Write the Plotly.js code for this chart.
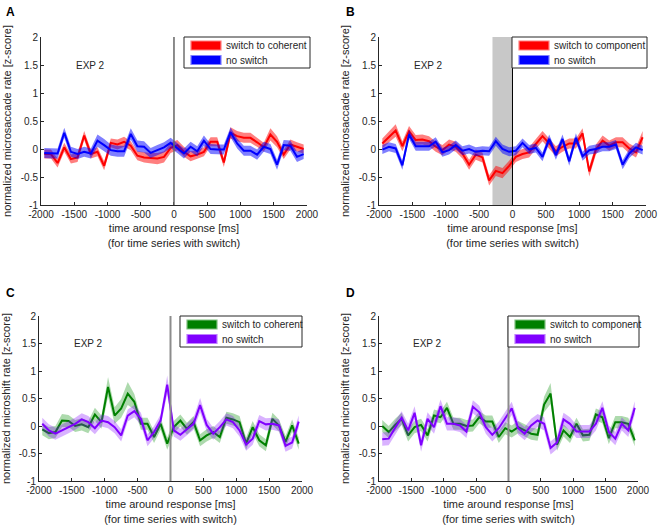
<!DOCTYPE html>
<html>
<head>
<meta charset="utf-8">
<script src="https://cdn.plot.ly/plotly-3.0.1.min.js"></script>
<style>
  html, body { margin: 0; padding: 0; background: #fff; }
  #plot { width: 662px; height: 528px; }
</style>
</head>
<body>
<div id="plot"></div>
<script>
// time bins around the response (ms)
var timeMs = [-1950, -1850, -1750, -1650, -1550, -1450, -1350, -1250, -1150, -1050,
  -950, -850, -750, -650, -550, -450, -350, -250, -150, -50,
  50, 150, 250, 350, 450, 550, 650, 750, 850, 950,
  1050, 1150, 1250, 1350, 1450, 1550, 1650, 1750, 1850, 1950];

// A: microsaccades, switch to coherent vs no switch
var msCohSwitch = [-0.09, -0.09, -0.25, 0.03, -0.18, -0.15, 0.24, -0.09, -0.05, -0.30,
  0.11, 0.08, 0.13, 0.06, -0.12, -0.15, -0.16, -0.17, -0.14, 0.02,
  0.07, -0.05, -0.13, -0.10, -0.05, 0.13, 0.13, -0.24, 0.29, 0.23,
  0.20, 0.20, 0.12, 0.03, 0.26, 0.13, -0.10, 0.08, 0.04, 0.00];
var msCohSwitchErr = [0.08, 0.08, 0.08, 0.08, 0.08, 0.08, 0.08, 0.08, 0.08, 0.08,
  0.08, 0.09, 0.09, 0.08, 0.08, 0.09, 0.09, 0.10, 0.10, 0.09,
  0.09, 0.09, 0.09, 0.08, 0.08, 0.08, 0.08, 0.08, 0.10, 0.09,
  0.09, 0.09, 0.08, 0.08, 0.11, 0.10, 0.08, 0.09, 0.08, 0.08];
var msCohNoSwitch = [-0.07, -0.08, -0.08, 0.29, -0.05, -0.09, -0.05, -0.08, 0.15, 0.07,
  -0.02, -0.04, -0.04, 0.27, 0.05, 0.04, -0.07, -0.02, 0.03, 0.11,
  0.02, -0.08, 0.04, -0.04, 0.15, 0.00, -0.01, -0.01, 0.30, 0.10,
  -0.03, -0.03, -0.10, 0.04, 0.00, -0.28, 0.07, 0.06, -0.14, -0.09];
var msCohNoSwitchErr = [0.09, 0.09, 0.09, 0.09, 0.09, 0.09, 0.09, 0.09, 0.11, 0.11,
  0.10, 0.10, 0.10, 0.10, 0.10, 0.10, 0.09, 0.09, 0.09, 0.09,
  0.09, 0.09, 0.09, 0.09, 0.09, 0.09, 0.09, 0.09, 0.09, 0.09,
  0.09, 0.09, 0.09, 0.09, 0.09, 0.09, 0.09, 0.09, 0.09, 0.09];

// B: microsaccades, switch to component vs no switch
var msCompSwitch = [0.10, 0.22, 0.33, 0.05, 0.32, 0.16, 0.17, 0.14, 0.04, -0.02,
  0.08, 0.04, -0.08, -0.28, -0.10, -0.15, -0.56, -0.39, -0.43, -0.30,
  -0.14, -0.09, -0.06, 0.09, 0.23, 0.10, -0.04, 0.04, 0.10, 0.10,
  0.28, -0.40, -0.01, 0.15, 0.06, 0.12, 0.12, 0.01, -0.06, 0.21];
var msCompSwitchErr = [0.09, 0.10, 0.11, 0.09, 0.09, 0.09, 0.09, 0.09, 0.09, 0.09,
  0.09, 0.09, 0.09, 0.09, 0.09, 0.09, 0.09, 0.09, 0.09, 0.09,
  0.09, 0.09, 0.09, 0.09, 0.09, 0.09, 0.09, 0.09, 0.09, 0.09,
  0.09, 0.09, 0.09, 0.09, 0.09, 0.09, 0.09, 0.09, 0.09, 0.11];
var msCompNoSwitch = [-0.01, 0.04, 0.01, -0.29, 0.26, 0.05, 0.05, 0.05, 0.13, -0.06,
  -0.02, 0.07, -0.03, 0.00, -0.05, -0.03, -0.04, 0.14, 0.00, -0.05,
  -0.03, 0.11, -0.01, 0.02, -0.14, 0.18, -0.11, 0.18, -0.22, 0.20,
  -0.13, -0.02, 0.00, 0.04, 0.04, 0.08, -0.28, -0.08, 0.03, -0.02];
var msCompNoSwitchErr = [0.08, 0.08, 0.08, 0.08, 0.08, 0.08, 0.08, 0.08, 0.08, 0.08,
  0.08, 0.08, 0.08, 0.08, 0.08, 0.08, 0.08, 0.08, 0.08, 0.08,
  0.08, 0.08, 0.08, 0.08, 0.08, 0.08, 0.08, 0.08, 0.08, 0.08,
  0.08, 0.08, 0.08, 0.08, 0.08, 0.08, 0.08, 0.08, 0.08, 0.08];

// C: microshifts, switch to coherent vs no switch
var mfCohSwitch = [-0.06, -0.13, -0.11, 0.10, 0.09, 0.00, 0.03, -0.02, 0.21, 0.07,
  0.71, 0.19, 0.32, 0.59, 0.44, 0.04, 0.04, -0.20, 0.04, -0.32,
  -0.02, 0.10, -0.05, 0.07, -0.26, -0.17, -0.11, -0.20, 0.15, 0.12,
  0.07, -0.32, -0.02, -0.26, -0.35, 0.13, 0.01, -0.29, 0.01, -0.32];
var mfCohSwitchErr = [0.11, 0.11, 0.11, 0.12, 0.11, 0.11, 0.11, 0.11, 0.12, 0.12,
  0.18, 0.15, 0.17, 0.21, 0.14, 0.11, 0.11, 0.11, 0.11, 0.11,
  0.11, 0.11, 0.11, 0.11, 0.11, 0.11, 0.11, 0.11, 0.11, 0.11,
  0.11, 0.11, 0.11, 0.11, 0.11, 0.11, 0.11, 0.11, 0.11, 0.11];
var mfCohNoSwitch = [0.04, -0.08, -0.14, -0.08, -0.02, 0.04, 0.12, 0.07, -0.04, 0.10,
  0.07, -0.02, -0.17, 0.19, 0.27, 0.13, -0.26, -0.11, 0.10, 0.75,
  -0.08, -0.16, -0.06, 0.04, 0.38, 0.02, -0.14, -0.02, 0.12, 0.07,
  -0.08, -0.34, -0.23, 0.09, 0.03, 0.04, 0.01, -0.36, -0.30, 0.08];
var mfCohNoSwitchErr = [0.11, 0.11, 0.11, 0.11, 0.11, 0.11, 0.11, 0.11, 0.11, 0.11,
  0.11, 0.11, 0.11, 0.11, 0.11, 0.11, 0.11, 0.11, 0.11, 0.17,
  0.11, 0.11, 0.11, 0.11, 0.13, 0.11, 0.11, 0.11, 0.11, 0.11,
  0.11, 0.11, 0.11, 0.11, 0.11, 0.11, 0.11, 0.11, 0.11, 0.11];

// D: microshifts, switch to component vs no switch
var mfCompSwitch = [0.00, -0.11, 0.02, 0.13, -0.17, -0.02, 0.02, -0.17, 0.19, 0.16,
  0.33, 0.04, 0.04, 0.00, 0.01, 0.16, 0.08, 0.08, -0.20, -0.04,
  -0.10, -0.02, -0.08, -0.14, -0.16, 0.39, 0.59, -0.34, -0.08, -0.20,
  0.04, -0.17, -0.16, 0.21, 0.16, -0.22, 0.07, 0.07, 0.04, -0.26];
var mfCompSwitchErr = [0.11, 0.11, 0.11, 0.11, 0.11, 0.11, 0.11, 0.11, 0.11, 0.11,
  0.11, 0.11, 0.11, 0.11, 0.11, 0.11, 0.11, 0.11, 0.11, 0.11,
  0.11, 0.11, 0.11, 0.11, 0.11, 0.14, 0.19, 0.11, 0.11, 0.11,
  0.11, 0.11, 0.11, 0.11, 0.11, 0.11, 0.11, 0.11, 0.11, 0.11];
var mfCompNoSwitch = [-0.24, -0.23, -0.03, 0.15, -0.08, 0.24, -0.35, 0.13, -0.02, 0.36,
  0.04, 0.04, 0.01, -0.10, 0.35, 0.25, -0.02, -0.16, -0.04, 0.13,
  0.32, -0.04, -0.14, 0.01, 0.10, 0.04, -0.40, -0.30, 0.12, 0.04,
  -0.10, -0.10, -0.10, 0.04, 0.33, -0.11, -0.23, 0.04, -0.08, 0.33];
var mfCompNoSwitchErr = [0.12, 0.12, 0.12, 0.12, 0.12, 0.12, 0.12, 0.12, 0.12, 0.12,
  0.12, 0.12, 0.12, 0.12, 0.12, 0.12, 0.12, 0.12, 0.12, 0.12,
  0.12, 0.12, 0.12, 0.12, 0.12, 0.12, 0.12, 0.12, 0.12, 0.12,
  0.12, 0.12, 0.12, 0.12, 0.12, 0.12, 0.12, 0.12, 0.12, 0.12];

var shadeWindow = [-300, 0];
var legendCoh = ['switch to coherent', 'no switch'];
var legendComp = ['switch to component', 'no switch'];

var xTickVals = [-2000, -1500, -1000, -500, 0, 500, 1000, 1500, 2000];
var xTickText = ['-2000', '-1500', '-1000', '-500', '0', '500', '1000', '1500', '2000'];
var yTickVals = [-1, -0.5, 0, 0.5, 1, 1.5, 2];
var yTickText = ['-1', '-0.5', '0', '0.5', '1', '1.5', '2'];

var FONT = 'Liberation Sans, Arial, sans-serif';
var INK = '#262626';
var W = 662, H = 528;
function px(x) { return x / W; }
function py(y) { return 1 - y / H; }

function band(y, err, color, n) {
  var up = y.map(function (v, i) { return v + err[i]; });
  var lo = y.map(function (v, i) { return v - err[i]; }).reverse();
  return {
    x: timeMs.concat(timeMs.slice().reverse()), y: up.concat(lo),
    type: 'scatter', mode: 'lines', fill: 'toself', fillcolor: color,
    line: {width: 0, color: color}, hoverinfo: 'skip', showlegend: false,
    xaxis: 'x' + n, yaxis: 'y' + n
  };
}
function meanLine(y, color, n) {
  return {
    x: timeMs, y: y, type: 'scatter', mode: 'lines',
    line: {color: color, width: 2}, showlegend: false,
    xaxis: 'x' + n, yaxis: 'y' + n
  };
}

var RED = '#ff0000', BLUE = '#0000ff', GREEN = '#008000', PURPLE = '#8000ff';
var RED_F = 'rgba(255,0,0,0.5)', BLUE_F = 'rgba(0,0,255,0.5)';
var GREEN_F = 'rgba(0,140,0,0.32)', PURPLE_F = 'rgba(128,0,255,0.3)';

var data = [
  band(msCohSwitch, msCohSwitchErr, RED_F, 1), meanLine(msCohSwitch, RED, 1),
  band(msCohNoSwitch, msCohNoSwitchErr, BLUE_F, 1), meanLine(msCohNoSwitch, BLUE, 1),

  band(msCompSwitch, msCompSwitchErr, RED_F, 2), meanLine(msCompSwitch, RED, 2),
  band(msCompNoSwitch, msCompNoSwitchErr, BLUE_F, 2), meanLine(msCompNoSwitch, BLUE, 2),

  band(mfCohSwitch, mfCohSwitchErr, GREEN_F, 3), meanLine(mfCohSwitch, GREEN, 3),
  band(mfCohNoSwitch, mfCohNoSwitchErr, PURPLE_F, 3), meanLine(mfCohNoSwitch, PURPLE, 3),

  band(mfCompSwitch, mfCompSwitchErr, GREEN_F, 4), meanLine(mfCompSwitch, GREEN, 4),
  band(mfCompNoSwitch, mfCompNoSwitchErr, PURPLE_F, 4), meanLine(mfCompNoSwitch, PURPLE, 4)
];

function xAxis(dom, anchor) {
  return {
    domain: dom, anchor: anchor, range: [-2000, 2000], fixedrange: true,
    tickvals: xTickVals, ticktext: xTickText, ticks: 'inside', ticklen: 3,
    tickcolor: INK, showline: true, linecolor: INK, linewidth: 1,
    showgrid: false, zeroline: false, tickfont: {size: 10, color: INK},
    title: {text: 'time around response [ms]<br>(for time series with switch)',
      font: {size: 11, color: INK}, standoff: 5}
  };
}
function yAxis(dom, anchor, label) {
  return {
    domain: dom, anchor: anchor, range: [-1, 2], fixedrange: true,
    tickvals: yTickVals, ticktext: yTickText, ticks: 'inside', ticklen: 3,
    tickcolor: INK, showline: true, linecolor: INK, linewidth: 1,
    showgrid: false, zeroline: false, tickfont: {size: 10, color: INK},
    title: {text: label, font: {size: 11, color: INK}, standoff: 6}
  };
}

var shapes = [
  {type: 'rect', xref: 'x2', yref: 'y2 domain', x0: shadeWindow[0], x1: shadeWindow[1],
    y0: 0, y1: 1, fillcolor: '#c8c8c8', line: {width: 0}, layer: 'below'}
];
var annotations = [];

function zeroLine(n, color, w) {
  shapes.push({type: 'line', xref: 'x' + n, yref: 'y' + n + ' domain', x0: 0, x1: 0, y0: 0, y1: 1,
    line: {color: color, width: w}, layer: 'above'});
}
function expLabel(n) {
  annotations.push({xref: 'x' + n, yref: 'y' + n, x: -1500, y: 1.5, text: 'EXP 2', showarrow: false,
    xanchor: 'left', font: {size: 10, color: INK}});
}
function panelLetter(t, x, y) {
  annotations.push({xref: 'paper', yref: 'paper', x: px(x), y: py(y), text: '<b>' + t + '</b>',
    showarrow: false, xanchor: 'left', yanchor: 'middle', font: {size: 12, color: '#000'}});
}
// legend drawn as a box with two patch samples (pixel layout of the figure)
function legendBox(left, right, top, names, colors, edges) {
  shapes.push({type: 'rect', xref: 'paper', yref: 'paper', x0: px(left), x1: px(right),
    y0: py(top), y1: py(top + 31), fillcolor: '#ffffff', line: {color: INK, width: 1}, layer: 'above'});
  for (var k = 0; k < names.length; k++) {
    var cy = top + 8.5 + k * 14.5;
    shapes.push({type: 'rect', xref: 'paper', yref: 'paper', x0: px(left + 7), x1: px(left + 37),
      y0: py(cy - 4.5), y1: py(cy + 4.5), fillcolor: colors[k],
      line: {color: edges[k], width: 1.2}, layer: 'above'});
    annotations.push({xref: 'paper', yref: 'paper', x: px(left + 40), y: py(cy), text: names[k],
      showarrow: false, xanchor: 'left', yanchor: 'middle', font: {size: 10, color: INK}});
  }
}

zeroLine(1, '#666666', 1.5); zeroLine(2, '#000000', 1);
zeroLine(3, '#8c8c8c', 2); zeroLine(4, '#8c8c8c', 2);
[1, 2, 3, 4].forEach(expLabel);
panelLetter('A', 4, 12); panelLetter('B', 344, 12);
panelLetter('C', 4, 292.5); panelLetter('D', 344, 292.5);
legendBox(184, 310, 37, legendCoh, [RED, BLUE], ['#ff8080', '#8080ff']);
legendBox(512, 647, 37, legendComp, [RED, BLUE], ['#ff8080', '#8080ff']);
legendBox(180, 302, 316, legendCoh, [GREEN, PURPLE], ['#80c080', '#c080ff']);
legendBox(508, 639, 316, legendComp, [GREEN, PURPLE], ['#80c080', '#c080ff']);

var topRow = [0.6117, 0.9299], botRow = [0.0890, 0.4015];
var msLabel = 'normalized microsaccade rate [z-score]';
var mfLabel = 'normalized microshift rate [z-score]';

var layout = {
  width: W, height: H,
  margin: {l: 0, r: 0, t: 0, b: 0},
  paper_bgcolor: '#fff', plot_bgcolor: 'rgba(0,0,0,0)',
  font: {family: FONT, color: INK},
  showlegend: false,
  xaxis: xAxis([0.0619, 0.4637], 'y'), yaxis: yAxis(topRow, 'x', msLabel),
  xaxis2: xAxis([0.5725, 0.9758], 'y2'), yaxis2: yAxis(topRow, 'x2', msLabel),
  xaxis3: xAxis([0.0589, 0.4562], 'y3'), yaxis3: yAxis(botRow, 'x3', mfLabel),
  xaxis4: xAxis([0.5725, 0.9637], 'y4'), yaxis4: yAxis(botRow, 'x4', mfLabel),
  shapes: shapes,
  annotations: annotations
};

Plotly.newPlot('plot', data, layout, {displayModeBar: false, staticPlot: true});
</script>
</body>
</html>
